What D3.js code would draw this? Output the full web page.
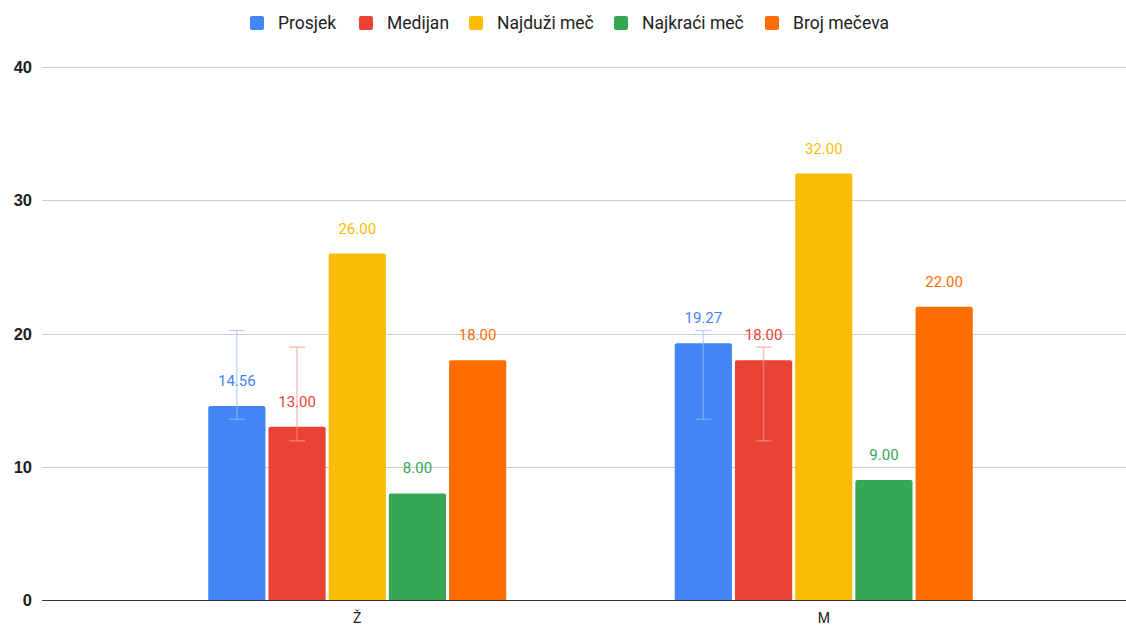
<!DOCTYPE html>
<html>
<head>
<meta charset="utf-8">
<script src="https://cdn.jsdelivr.net/npm/d3@7"></script>
<style>
  html, body { margin: 0; padding: 0; background: #fff; }
  svg { display: block; }
</style>
</head>
<body>
<svg id="chart" width="1126" height="625"></svg>
<script>
const categories = ["Ž", "M"];
const seriesNames = ["Prosjek", "Medijan", "Najduži meč", "Najkraći meč", "Broj mečeva"];
const seriesColors = ["#4285F4", "#EA4335", "#FBBC04", "#34A853", "#FF6D01"];
const prosjek = [14.56, 19.27];
const medijan = [13, 18];
const najduzi = [26, 32];
const najkraci = [8, 9];
const brojMeceva = [18, 22];
const seriesValues = [prosjek, medijan, najduzi, najkraci, brojMeceva];
// error bars (low, high) for Prosjek and Medijan
const prosjekErrLow = [13.56, 13.56];
const prosjekErrHigh = [20.22, 20.22];
const medijanErrLow = [11.95, 11.95];
const medijanErrHigh = [18.98, 18.98];
const errorBars = { 0: [prosjekErrLow, prosjekErrHigh], 1: [medijanErrLow, medijanErrHigh] };
const yTicks = [0, 10, 20, 30, 40];

const svg = d3.select("#chart");
const plotLeft = 42, plotRight = 1126, plotTop = 67, plotBottom = 600;

const y = d3.scaleLinear().domain([0, 40]).range([plotBottom, plotTop]);
const x0 = d3.scaleBand().domain(categories).range([124, 1057]).padding(0);
const groupWidth = 298;
const x1 = d3.scaleBand().domain(seriesNames).range([0, groupWidth]).paddingInner(0.05).paddingOuter(0);

// gridlines
svg.append("g").selectAll("line").data(yTicks.filter(t => t !== 0)).join("line")
  .attr("x1", plotLeft).attr("x2", plotRight)
  .attr("y1", d => Math.round(y(d)) + 0.5).attr("y2", d => Math.round(y(d)) + 0.5)
  .attr("stroke", "#cccccc").attr("stroke-width", 1);

// y labels
svg.append("g").selectAll("text").data(yTicks).join("text")
  .attr("x", 32).attr("y", d => y(d) + 6)
  .attr("text-anchor", "end")
  .attr("font-family", "Liberation Sans, Arial, sans-serif")
  .attr("font-weight", "bold").attr("font-size", 16.5).attr("fill", "#222")
  .text(d => d);

// bars
const groups = svg.append("g").selectAll("g").data(categories).join("g")
  .attr("transform", d => `translate(${x0(d) + (x0.bandwidth() - groupWidth) / 2},0)`);

groups.each(function(cat, ci) {
  const g = d3.select(this);
  seriesNames.forEach((s, si) => {
    const v = seriesValues[si][ci];
    g.append("path")
      .attr("d", () => {
        const bx = x1(s), bw = x1.bandwidth(), by = y(v), bh = y(0) - y(v), r = 2;
        return `M${bx},${by + bh} V${by + r} Q${bx},${by} ${bx + r},${by} H${bx + bw - r} Q${bx + bw},${by} ${bx + bw},${by + r} V${by + bh} Z`;
      })
      .attr("fill", seriesColors[si]);
  });
  // error bars
  Object.keys(errorBars).forEach(k => {
    const si = +k;
    const cx = x1(seriesNames[si]) + x1.bandwidth() / 2;
    const lo = y(errorBars[k][0][ci]), hi = y(errorBars[k][1][ci]);
    const col = d3.interpolateRgb(seriesColors[si], "#ffffff")(0.45);
    const eb = g.append("g").attr("stroke", col).attr("stroke-opacity", 0.6).attr("stroke-width", 1.5);
    eb.append("line").attr("x1", cx).attr("x2", cx).attr("y1", hi).attr("y2", lo);
    eb.append("line").attr("x1", cx - 8).attr("x2", cx + 8).attr("y1", hi).attr("y2", hi);
    eb.append("line").attr("x1", cx - 8).attr("x2", cx + 8).attr("y1", lo).attr("y2", lo);
  });
  // labels
  seriesNames.forEach((s, si) => {
    const v = seriesValues[si][ci];
    g.append("text")
      .attr("x", x1(s) + x1.bandwidth() / 2)
      .attr("y", y(v) - 20)
      .attr("text-anchor", "middle")
      .attr("font-family", "Roboto, sans-serif").attr("font-size", 15)
      .attr("fill", seriesColors[si])
      .text(d3.format(".2f")(v));
  });
});

// baseline
svg.append("line").attr("x1", plotLeft).attr("x2", plotRight)
  .attr("y1", y(0) + 0.5).attr("y2", y(0) + 0.5)
  .attr("stroke", "#333").attr("stroke-width", 1);

// category labels
svg.append("g").selectAll("text").data(categories).join("text")
  .attr("x", d => x0(d) + x0.bandwidth() / 2)
  .attr("y", 623)
  .attr("text-anchor", "middle")
  .attr("font-family", "Roboto, sans-serif").attr("font-size", 14).attr("fill", "#222")
  .text(d => d);

// legend
const legendX = [250, 359, 469, 614, 765];
const legend = svg.append("g").selectAll("g").data(seriesNames).join("g")
  .attr("transform", (d, i) => `translate(${legendX[i]},16)`);
legend.append("rect").attr("width", 14).attr("height", 14).attr("rx", 2)
  .attr("fill", (d, i) => seriesColors[i]);
legend.append("text").attr("x", 28).attr("y", 13)
  .attr("font-family", "Roboto, sans-serif").attr("font-size", 17.5).attr("fill", "#222")
  .text(d => d);
</script>
</body>
</html>
